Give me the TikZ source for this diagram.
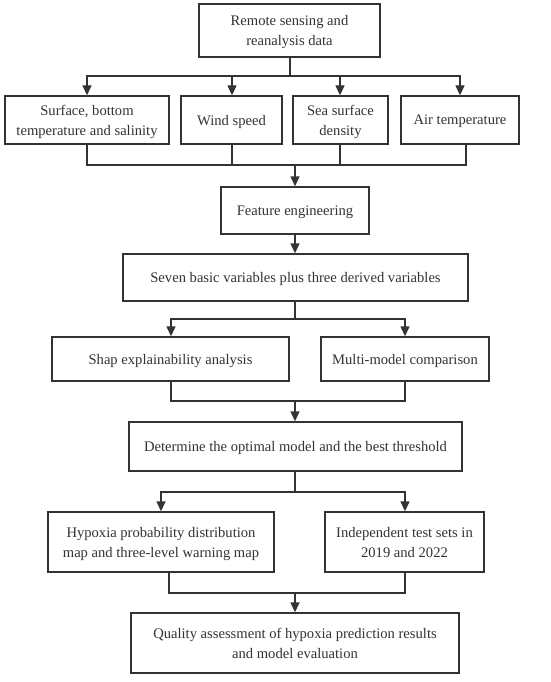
\documentclass[tikz,border=0pt]{standalone}
\usepackage{fontspec}
\setmainfont{Liberation Serif}
\usetikzlibrary{arrows.meta}
\definecolor{ink}{HTML}{333333}
\begin{document}
\begin{tikzpicture}[x=1pt,y=-1pt,
  box/.style={draw=ink,line width=1.4pt,text=ink,inner sep=0pt,align=center,
    text depth=0pt,font=\fontsize{14.6pt}{20pt}\selectfont},
  ln/.style={draw=ink,line width=1.4pt},
  arr/.style={ln,-{Triangle[length=10pt,width=9pt]}}]
\useasboundingbox (0,0) rectangle (550,682);
\fill[white] (0,0) rectangle (550,682);
\node[box,minimum width=181pt,minimum height=53pt] (top) at (289.5,30.5) {Remote sensing and\\reanalysis data};
\node[box,minimum width=164pt,minimum height=48pt] (b1) at (87,120) {Surface, bottom\\temperature and salinity};
\node[box,minimum width=101pt,minimum height=48pt] (b2) at (231.5,120) {Wind speed};
\node[box,minimum width=95pt,minimum height=48pt] (b3) at (340.5,120) {Sea surface\\density};
\node[box,minimum width=118pt,minimum height=48pt] (b4) at (460,120) {Air temperature};
\node[box,minimum width=148pt,minimum height=47pt] (fe) at (295,210.5) {Feature engineering};
\node[box,minimum width=345pt,minimum height=47pt] (seven) at (295.5,277.5) {Seven basic variables plus three derived variables};
\node[box,minimum width=237pt,minimum height=44pt] (shap) at (170.5,359) {Shap explainability analysis};
\node[box,minimum width=168pt,minimum height=44pt] (multi) at (405,359) {Multi-model comparison};
\node[box,minimum width=333pt,minimum height=49pt] (det) at (295.5,446.5) {Determine the optimal model and the best threshold};
\node[box,minimum width=226pt,minimum height=60pt] (hyp) at (161,542) {Hypoxia probability distribution\\map and three-level warning map};
\node[box,minimum width=159pt,minimum height=60pt] (ind) at (404.5,542) {Independent test sets in\\2019 and 2022};
\node[box,minimum width=328pt,minimum height=60pt] (qual) at (295,643) {Quality assessment of hypoxia prediction results\\and model evaluation};
% top fan-out
\coordinate (s1) at (290,76);
\draw[ln] (s1 |- top.south) -- (s1);
\draw[arr] (s1) -| (b1.north);
\draw[arr] (s1) -| ([xshift=0.5pt]b2.north);
\draw[arr] (s1) -| ([xshift=-0.5pt]b3.north);
\draw[arr] (s1) -| (b4.north);
% merge
\coordinate (m1) at (295,165);
\draw[ln] (b1.south) |- (m1);
\draw[ln] ([xshift=6pt]b4.south) |- (m1);
\draw[ln] ([xshift=0.5pt]b2.south) -- ([xshift=0.5pt]b2.south |- m1);
\draw[ln] ([xshift=-0.5pt]b3.south) -- ([xshift=-0.5pt]b3.south |- m1);
\draw[arr] (m1) -- (fe.north);
\draw[arr] (fe.south) -- (fe.south |- seven.north);
% split 2
\coordinate (s2) at (295,319);
\draw[ln] (s2 |- seven.south) -- (s2);
\draw[arr] (s2) -| ([xshift=0.5pt]shap.north);
\draw[arr] (s2) -| (multi.north);
\coordinate (m2) at (295,401);
\draw[ln] ([xshift=0.5pt]shap.south) |- (m2);
\draw[ln] (multi.south) |- (m2);
\draw[arr] (m2) -- (m2 |- det.north);
% split 3
\coordinate (s3) at (295,492);
\draw[ln] (s3 |- det.south) -- (s3);
\draw[arr] (s3) -| (hyp.north);
\draw[arr] (s3) -| ([xshift=0.5pt]ind.north);
\coordinate (m3) at (295,593);
\draw[ln] ([xshift=8pt]hyp.south) |- (m3);
\draw[ln] ([xshift=0.5pt]ind.south) |- (m3);
\draw[arr] (m3) -- (qual.north);
\end{tikzpicture}
\end{document}
